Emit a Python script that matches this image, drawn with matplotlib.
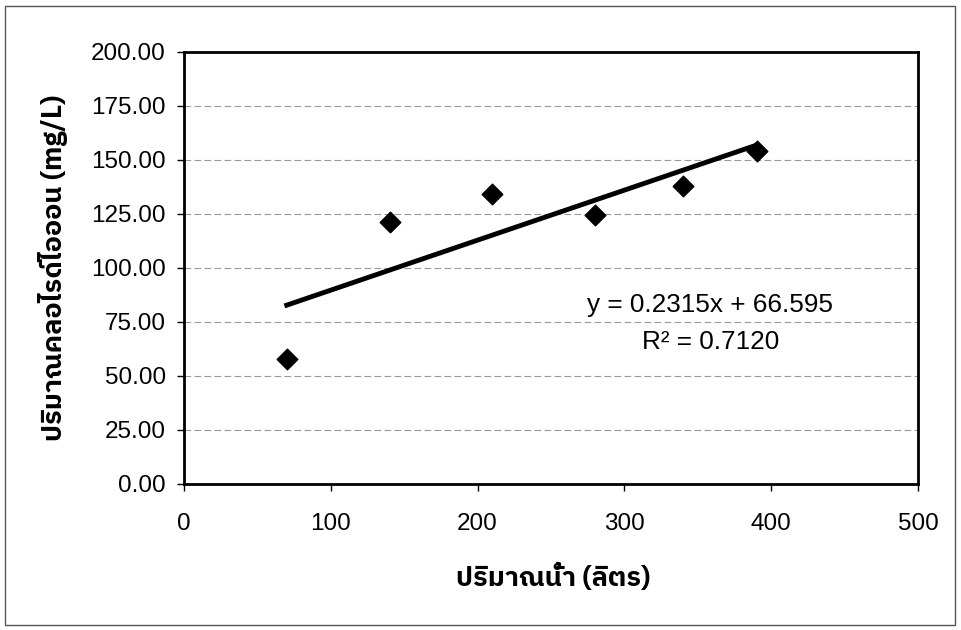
import matplotlib
matplotlib.use("Agg")
import matplotlib.pyplot as plt
from matplotlib import font_manager
from matplotlib.ft2font import FT2Font
from matplotlib.patches import Rectangle

# ---- data ----
water_litres = [70, 140, 210, 280, 340, 390]
chloride_mg_l = [58.0, 121.2, 134.2, 124.4, 137.8, 154.2]
trend_slope = 0.2315
trend_intercept = 66.595
r_squared = 0.7120
x_ticks = [0, 100, 200, 300, 400, 500]
y_ticks = [0, 25, 50, 75, 100, 125, 150, 175, 200]
x_label = "ปริมาณน้ำ (ลิตร)"
y_label = "ปริมาณคลอไรด์ไอออน (mg/L)"

# find a font that has Thai glyphs
thai_font = None
cands = []
for f in font_manager.fontManager.ttflist:
    try:
        ft = FT2Font(f.fname)
        if ft.get_char_index(ord('ป')) and ft.get_char_index(ord('a')):
            cands.append(f)
    except Exception:
        pass
cands.sort(key=lambda f: (0 if 'Sans' in f.name else 1, f.name))
if cands:
    thai_font = cands[0].name
fams = ([thai_font] if thai_font else []) + ['Liberation Sans', 'DejaVu Sans']

plt.rcParams['font.family'] = ['Liberation Sans', 'DejaVu Sans']

W, H = 961, 630
fig = plt.figure(figsize=(W / 100, H / 100), dpi=100)
fig.patches.append(Rectangle((5 / W, 5 / H), 950 / W, 619 / H, transform=fig.transFigure,
                             fill=False, edgecolor='#555555', linewidth=1))
ax = fig.add_axes([184 / W, 1 - 484 / H, (918 - 184) / W, (484 - 52) / H])

ax.set_xlim(0, 500)
ax.set_ylim(0, 200)
ax.set_xticks(x_ticks)
ax.set_yticks(y_ticks)
ax.set_yticklabels([f"{v:.2f}" for v in y_ticks])
ax.tick_params(axis='both', labelsize=17.5, direction='out', length=5, width=1, color='black')
ax.tick_params(axis='y', pad=8)
ax.tick_params(axis='x', pad=16)
ax.grid(axis='y', color='#999999', linestyle=(0, (6, 3)), linewidth=0.8)
ax.set_axisbelow(True)
for s in ax.spines.values():
    s.set_linewidth(2)
    s.set_color('black')

ax.scatter(water_litres, chloride_mg_l, marker='D', s=110, color='black', zorder=3)
xs = [min(water_litres), max(water_litres)]
ax.plot(xs, [trend_slope * x + trend_intercept for x in xs], color='black', linewidth=3.5, zorder=2)

ax.text(0.717, 0.414, f"y = {trend_slope}x + {trend_intercept}", transform=ax.transAxes,
        ha='center', va='center', fontsize=18.8)
ax.text(0.717, 0.329, f"R² = {r_squared:.4f}", transform=ax.transAxes,
        ha='center', va='center', fontsize=18.8)

fig.text(553 / W, 1 - 578 / H, x_label, family=fams, fontsize=19.5, fontweight='bold',
         ha='center', va='center')
fig.text(53 / W, 1 - 268 / H, y_label, family=fams, fontsize=19.5, fontweight='bold',
         ha='center', va='center', rotation=90)

fig.savefig("out.png", dpi=100)
